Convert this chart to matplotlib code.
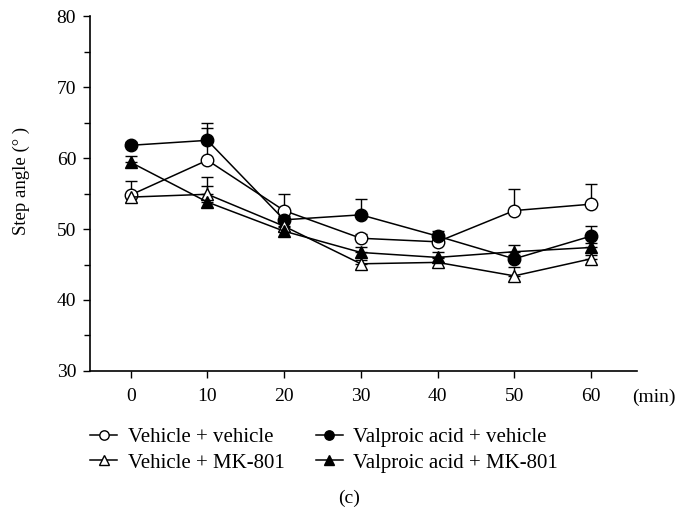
import matplotlib.pyplot as plt
import numpy as np

plt.rcParams['font.family'] = ['Liberation Serif', 'DejaVu Serif']

# time points (min)
time = [0, 10, 20, 30, 40, 50, 60]

# mean step angle and upper SEM for each group
veh_veh = [54.8, 59.7, 52.6, 48.7, 48.2, 52.6, 53.5]
veh_veh_err = [2.0, 4.6, 2.4, 0.6, 0.6, 3.0, 2.8]

vpa_veh = [61.8, 62.5, 51.3, 52.0, 49.0, 45.8, 49.0]
vpa_veh_err = [0.5, 2.4, 0.6, 2.2, 0.7, 0.6, 1.4]

veh_mk = [54.5, 54.9, 50.4, 45.1, 45.3, 43.4, 45.8]
veh_mk_err = [0.5, 2.4, 0.6, 0.5, 0.6, 1.3, 0.6]

vpa_mk = [59.4, 53.8, 49.7, 46.7, 46.0, 46.8, 47.4]
vpa_mk_err = [0.9, 2.3, 0.6, 0.8, 0.8, 1.0, 0.6]

yticks = [30, 40, 50, 60, 70, 80]

fig = plt.figure(figsize=(6.82, 5.21), dpi=100)
ax = fig.add_axes([0.132, 0.288, 0.802, 0.681])

series = [
    ('Vehicle + vehicle', veh_veh, veh_veh_err, 'o', 'white'),
    ('Valproic acid + vehicle', vpa_veh, vpa_veh_err, 'o', 'black'),
    ('Vehicle + MK-801', veh_mk, veh_mk_err, '^', 'white'),
    ('Valproic acid + MK-801', vpa_mk, vpa_mk_err, '^', 'black'),
]

handles = {}
for label, vals, err, marker, face in series:
    h = ax.errorbar(time, vals, yerr=[np.zeros(len(err)), err], color='black',
                    marker=marker, markersize=9, markerfacecolor=face,
                    markeredgecolor='black', markeredgewidth=1.0,
                    linewidth=1.1, elinewidth=1.0, capsize=4.5, capthick=1.0,
                    label=label)
    handles[label] = h

ax.set_xlim(-5.3, 66)
ax.set_ylim(30, 80)
ax.set_xticks(time)
ax.set_yticks(yticks)
ax.set_yticks([35, 45, 55, 65, 75], minor=True)
ax.tick_params(axis='both', labelsize=14, direction='out', length=5, width=1)
ax.tick_params(axis='x', pad=7)
ax.tick_params(axis='y', pad=5)
ax.tick_params(axis='y', which='minor', length=4, width=1)
ax.spines['top'].set_visible(False)
ax.spines['right'].set_visible(False)
ax.spines['left'].set_linewidth(1.2)
ax.spines['bottom'].set_linewidth(1.2)
ax.set_ylabel('Step angle (° )', fontsize=13.5)
ax.yaxis.set_label_coords(-0.11, 0.535)
fig.text(0.927, 1 - 397 / 521, '(min)', fontsize=14, ha='left', va='center')

order = ['Vehicle + vehicle', 'Vehicle + MK-801',
         'Valproic acid + vehicle', 'Valproic acid + MK-801']
leg_handles = [handles[name][0] for name in order]
fig.legend(leg_handles, order, ncol=2, frameon=False, fontsize=15,
           loc='upper left', bbox_to_anchor=(0.117, 0.2), borderpad=0,
           handlelength=1.3, handletextpad=0.5, columnspacing=1.5,
           labelspacing=0.3, markerscale=0.75)

fig.text(0.512, 0.044, '(c)', ha='center', va='center', fontsize=14)

plt.savefig('out.png', dpi=100)
